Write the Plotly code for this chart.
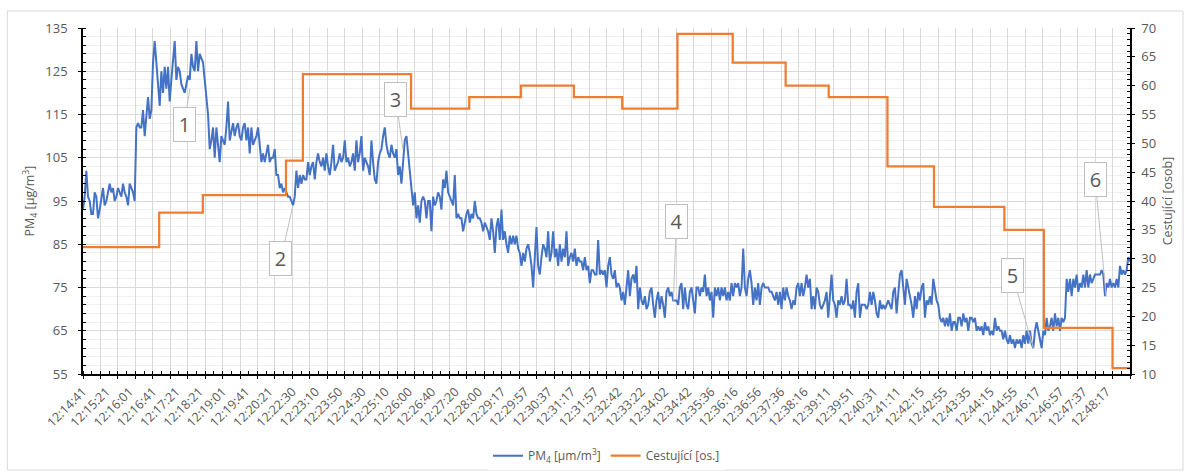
import numpy as np
import plotly.graph_objects as go

# ---------------- data ----------------
N_LAST = 1800          # last sample index on the category axis
LABEL_EVERY = 40       # a time label every 40 samples
GRID_EVERY = 30        # major tick / gridline every 30 samples

time_labels = ["12:14:41","12:15:21","12:16:01","12:16:41","12:17:21","12:18:21","12:19:01",
               "12:19:41","12:20:21","12:22:30","12:23:10","12:23:50","12:24:30","12:25:10",
               "12:26:00","12:26:40","12:27:20","12:28:00","12:29:17","12:29:57","12:30:37",
               "12:31:17","12:31:57","12:32:42","12:33:22","12:34:02","12:34:42","12:35:36",
               "12:36:16","12:36:56","12:37:36","12:38:16","12:39:11","12:39:51","12:40:31",
               "12:41:11","12:42:15","12:42:55","12:43:35","12:44:15","12:44:55","12:46:17",
               "12:46:57","12:47:37","12:48:17"]

# PM4 readings, evenly spread over the whole sample range
pm4_part1 = [93,96,102,96,95,92,92,97,96,91,93,96,98,94,95,97,99,97,98,95,96,98,97,96,99,97,96,94,
             99,98,97,95,112,113,112,112,116,110,115,119,114,116,127,132,127,122,117,125,120,126,
             121,126,118,123,127,132,123,126,125,122,121,120,122,124,123,129,126,125,132,125,129,
             128,127,123,119,115,107,109,112,105,112,108,104,110,109,108,112,118,109,111,113,110,
             112,113,110,109,112,113,109,112,106,112,108]
pm4_part2 = [109,110,112,107,104,106,104,106,108,104,105,105,107,101,101,98,99,97,98,97,96,96,95,94,
             96,102,98,101,99,101,100,100,104,101,103,104,100,104,106,104,103,105,102,106,103,101,
             104,108,102,103,104,106,104,105,109,104,105,103,104,106,102,109,104,106,110,102,105,
             104,103,101,109,104,100,99,104,106,107,110,112,108,106,105,108,106,105,107,101,103,99,
             104,109,110,106,101,98,94,97,91,94,90,95,96,95,91,95]
pm4_part3 = [95,88,96,94,95,97,96,93,100,98,102,97,96,95,94,101,91,92,91,91,88,90,92,93,90,92,91,95,
             92,91,91,90,88,90,89,88,86,91,88,83,89,91,86,93,86,88,85,83,87,85,87,85,87,84,83,80,83,
             81,84,85,83,80,75,84,89,80,78,82,85,84,82,88,81,83,88,82,84,80,85,81,84,82,88,80,82,83,
             81,84,80,82,81,81,79,82,79,80,76,79,79,78,78,86,78,79,78]
pm4_part4 = [79,75,80,82,78,77,79,75,76,75,72,74,71,75,79,73,77,78,76,80,70,75,72,71,73,70,71,74,75,
             71,68,72,74,70,73,71,68,74,75,73,74,72,72,72,71,75,76,70,75,71,70,74,75,72,69,75,75,73,
             75,74,78,73,75,72,74,68,75,73,75,72,75,73,75,72,74,72,76,73,76,75,76,73,75,84,75,73,77,
             79,76,71,75,72,76,71,75,76,75,75,75,74,74,73,72,74,71]
pm4_part5 = [74,70,75,72,75,73,72,70,72,71,75,76,73,76,73,75,78,75,77,70,73,70,75,74,71,70,71,72,74,
             68,73,78,72,71,68,72,71,73,71,72,77,71,71,70,72,68,74,76,68,71,71,71,70,71,74,71,74,72,
             69,68,72,70,71,70,71,72,71,70,74,75,69,74,78,79,74,71,77,75,73,71,68,73,70,74,72,75,76,
             68,72,71,73,71,77,74,72,71,68,67,68,66,68,66,69,65,67]
pm4_part6 = [67,65,68,68,66,69,67,68,65,68,68,67,68,65,66,65,66,64,67,65,66,64,65,64,68,65,66,65,65,
             63,65,63,62,64,62,63,61,63,62,63,61,64,62,65,62,65,62,61,65,67,65,63,61,65,64,68,65,66,
             68,65,69,66,68,65,68,67,68,77,74,77,73,77,75,78,74,76,75,78,75,79,75,78,76,77,78,78,78,
             78,79,78,73,76,75,77,75,76,75,77,75,80,78,79,78,79,82,81]
pm4 = pm4_part1 + pm4_part2 + pm4_part3 + pm4_part4 + pm4_part5 + pm4_part6

# passengers: step start sample index and count
pass_start = [0, 131, 206, 349, 378, 564, 664, 753, 844, 927, 1022, 1117, 1208, 1282, 1383, 1463,
              1584, 1652, 1770]
pass_count = [32, 38, 41, 47, 62, 56, 58, 60, 58, 56, 69, 64, 60, 58, 46, 39, 35, 18, 11]

# callouts: label, sample index, PM4 value, box offset (px)
callout_text = ["1", "2", "3", "4", "5", "6"]
callout_x = [184, 361, 550, 1015, 1634, 1759]
callout_y = [121, 94, 107, 72, 61, 73]
callout_dx = [-6, -12, -7, 3, -21, -11]
callout_dy = [36, 53, -50, -79, -73, -117]

# ---------------- figure ----------------
GREY = "#595959"
FONT = "Open Sans"
BLUE = "#4472C4"
ORANGE = "#ED7D31"

pm4_x = np.linspace(0, N_LAST, len(pm4))
pass_x = pass_start + [N_LAST]
pass_y = pass_count + [pass_count[-1]]

fig = go.Figure()
fig.add_trace(go.Scatter(x=pm4_x, y=pm4, mode="lines", name="PM<sub>4</sub> [µm/m<sup>3</sup>]",
                         line=dict(color=BLUE, width=2), xaxis="x", yaxis="y"))
fig.add_trace(go.Scatter(x=pass_x, y=pass_y, mode="lines", name="Cestující [os.]",
                         line=dict(color=ORANGE, width=2.25, shape="hv"), xaxis="x", yaxis="y2"))
# dummy traces that activate the helper axes (time labels, crossing ticks)
for xa, ya in [("x2", "y"), ("x3", "y"), ("x", "y3"), ("x", "y4")]:
    fig.add_trace(go.Scatter(x=[None], y=[None], xaxis=xa, yaxis=ya, showlegend=False,
                             hoverinfo="skip"))

label_pos = [i * LABEL_EVERY for i in range(len(time_labels))]
xr = [0, N_LAST]

fig.update_layout(
    width=1190, height=473,
    margin=dict(l=83, r=60, t=28, b=99, autoexpand=False),
    paper_bgcolor="white", plot_bgcolor="white",
    font=dict(family=FONT, size=12, color=GREY),
    showlegend=True,
    legend=dict(orientation="h", x=0.5, xanchor="center", y=-0.236, yanchor="middle",
                font=dict(size=12, color=GREY), itemwidth=30, tracegroupgap=0),
    xaxis=dict(range=xr, tickmode="linear", tick0=0, dtick=GRID_EVERY, showticklabels=False,
               showgrid=True, gridcolor="#d9d9d9", gridwidth=1, zeroline=False, automargin=False,
               ticks="outside", ticklen=3, tickcolor="black", tickwidth=1.3,
               showline=True, linecolor="black", linewidth=1.5,
               minor=dict(tick0=0, dtick=GRID_EVERY / 2, ticks="inside", ticklen=3,
                          tickcolor="black", tickwidth=1.3, showgrid=False)),
    xaxis2=dict(range=xr, overlaying="x", anchor="y", side="bottom", tickmode="array",
                tickvals=label_pos, ticktext=time_labels, tickangle=-45, ticks="",
                showgrid=False, zeroline=False, showline=False, ticklabelstandoff=7,
                automargin=False, tickfont=dict(size=12.5, color=GREY)),
    xaxis3=dict(range=xr, overlaying="x", anchor="y", side="bottom", tickmode="linear",
                tick0=0, dtick=GRID_EVERY, ticks="inside", ticklen=3, tickcolor="black",
                tickwidth=1.3, showticklabels=False, showgrid=False, zeroline=False,
                showline=False, automargin=False),
    yaxis=dict(range=[55, 135], tickmode="linear", tick0=55, dtick=10, showgrid=True,
               gridcolor="#d9d9d9", gridwidth=1, zeroline=False, automargin=False,
               ticks="outside", ticklen=3, tickcolor="black", tickwidth=1.3,
               showline=True, linecolor="black", linewidth=1.5, ticklabelstandoff=8,
               tickfont=dict(size=13, color=GREY),
               title=dict(text="PM<sub>4</sub> [µg/m<sup>3</sup>]", standoff=8,
                          font=dict(size=12.5, color=GREY)),
               minor=dict(tick0=55, dtick=2, ticks="inside", ticklen=3, tickcolor="black",
                          tickwidth=1.3, showgrid=True, gridcolor="#f0f0f0", gridwidth=1)),
    yaxis2=dict(range=[10, 70], overlaying="y", anchor="x", side="right", tickmode="linear",
                tick0=10, dtick=5, showgrid=False, zeroline=False, automargin=False,
                ticks="outside", ticklen=3, tickcolor="black", tickwidth=1.3,
                showline=True, linecolor="black", linewidth=1.5, ticklabelstandoff=4,
                tickfont=dict(size=13, color=GREY),
                title=dict(text="Cestující [osob]", standoff=8, font=dict(size=12.5, color=GREY)),
                minor=dict(tick0=10, dtick=1, ticks="inside", ticklen=3, tickcolor="black",
                           tickwidth=1.3, showgrid=False)),
    yaxis3=dict(range=[55, 135], overlaying="y", anchor="x", side="left", tickmode="linear",
                tick0=55, dtick=10, ticks="inside", ticklen=3, tickcolor="black", tickwidth=1.3,
                showticklabels=False, showgrid=False, zeroline=False, showline=False,
                automargin=False),
    yaxis4=dict(range=[10, 70], overlaying="y", anchor="x", side="right", tickmode="linear",
                tick0=10, dtick=5, ticks="inside", ticklen=3, tickcolor="black", tickwidth=1.3,
                showticklabels=False, showgrid=False, zeroline=False, showline=False,
                automargin=False),
)

# outer chart border
pw, ph = 1190 - 83 - 60, 473 - 28 - 99
fig.add_shape(type="rect", xref="paper", yref="paper",
              x0=(7.3 - 83) / pw, x1=(1183 - 83) / pw,
              y0=(374 - 470) / ph, y1=(374 - 11) / ph,
              line=dict(color="#d9d9d9", width=1), fillcolor="rgba(0,0,0,0)", layer="below")

for t, x, y, dx, dy in zip(callout_text, callout_x, callout_y, callout_dx, callout_dy):
    fig.add_annotation(x=x, y=y, xref="x", yref="y", text=t, showarrow=True,
                       ax=dx, ay=dy, arrowhead=0, arrowwidth=1, arrowcolor="#bfbfbf",
                       font=dict(size=20, color=GREY, family=FONT),
                       bgcolor="white", bordercolor="#bfbfbf", borderwidth=1,
                       width=19, height=31)

fig.write_html("out.html", config={"displayModeBar": False},
               post_script="document.body.style.margin='0';document.body.style.overflow='hidden';")
